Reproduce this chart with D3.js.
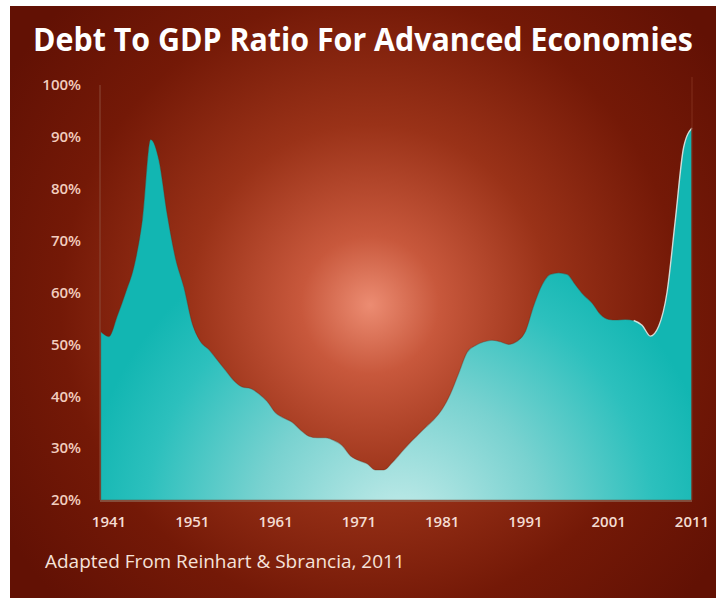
<!DOCTYPE html>
<html>
<head>
<meta charset="utf-8">
<script src="https://cdn.jsdelivr.net/npm/d3@7"></script>
<style>
  body { margin: 0; background: #fff; }
  svg { display: block; }
</style>
</head>
<body>
<script>
// data
const years = d3.range(1940, 2012);
const debtRatio = [
  52.5, 51.5, 55.5, 60, 65, 74, 89.5, 85.5, 75, 66.5,
  61, 54, 50.5, 49, 47, 45, 43, 41.8, 41.5, 40.5,
  39, 36.8, 35.8, 35, 33.5, 32.3, 32, 32, 31.5, 30.5,
  28.5, 27.6, 27, 25.8, 25.8, 27.2, 29, 30.8, 32.4, 34,
  35.5, 37.5, 40.5, 44.5, 48.5, 49.8, 50.5, 50.8, 50.5, 50,
  50.6, 52.5, 57.5, 61.5, 63.5, 63.8, 63.5, 61.5, 59.5, 58,
  55.8, 54.8, 54.7, 54.8, 54.6, 53.7, 51.6, 53.5, 60, 74,
  88, 91.7
];
const yTicks = [20, 30, 40, 50, 60, 70, 80, 90, 100];
const xTicks = [1941, 1951, 1961, 1971, 1981, 1991, 2001, 2011];

const W = 716, H = 598;
const data = years.map((y, i) => ({ year: y, value: debtRatio[i] }));

const svg = d3.select("body").append("svg")
  .attr("width", W)
  .attr("height", H);

const defs = svg.append("defs");

// background glow
const bg = defs.append("radialGradient")
  .attr("id", "bg")
  .attr("gradientUnits", "userSpaceOnUse")
  .attr("cx", 370).attr("cy", 305).attr("r", 430);
bg.append("stop").attr("offset", 0).attr("stop-color", "#ec8c72");
bg.append("stop").attr("offset", 0.16).attr("stop-color", "#c8583c");
bg.append("stop").attr("offset", 0.42).attr("stop-color", "#9a3218");
bg.append("stop").attr("offset", 0.72).attr("stop-color", "#741907");
bg.append("stop").attr("offset", 1).attr("stop-color", "#621104");

// teal fill, pale near bottom middle
const fill = defs.append("radialGradient")
  .attr("id", "teal")
  .attr("gradientUnits", "userSpaceOnUse")
  .attr("cx", 400).attr("cy", 530).attr("r", 320);
fill.append("stop").attr("offset", 0).attr("stop-color", "#c6ecea");
fill.append("stop").attr("offset", 0.45).attr("stop-color", "#79d2d0");
fill.append("stop").attr("offset", 0.8).attr("stop-color", "#2cc0bd");
fill.append("stop").attr("offset", 1).attr("stop-color", "#12b6b2");

svg.append("rect")
  .attr("x", 10).attr("y", 6)
  .attr("width", W - 10).attr("height", H - 6)
  .attr("fill", "url(#bg)");

const x = d3.scaleLinear().domain([1941, 2011]).range([109, 692]);
const y = d3.scaleLinear().domain([20, 100]).range([500, 85]);

const area = d3.area()
  .x(d => x(d.year))
  .y0(y(20))
  .y1(d => y(d.value))
  .curve(d3.curveMonotoneX);

svg.append("path")
  .datum(data)
  .attr("d", area)
  .attr("fill", "url(#teal)")
  .attr("stroke", "rgba(110,40,20,0.35)")
  .attr("stroke-width", 1.2);

// light edge on the last stretch
const line = d3.line()
  .x(d => x(d.year))
  .y(d => y(d.value))
  .curve(d3.curveMonotoneX);

svg.append("path")
  .datum(data.filter(d => d.year >= 2004))
  .attr("d", line)
  .attr("fill", "none")
  .attr("stroke", "#e6f6f2")
  .attr("stroke-opacity", 0.85)
  .attr("stroke-width", 1.4);

// axis lines
svg.append("line")
  .attr("x1", 100).attr("x2", 100)
  .attr("y1", y(100)).attr("y2", y(20))
  .attr("stroke", "#8c4a38").attr("stroke-width", 1);
svg.append("line")
  .attr("x1", x(2011)).attr("x2", x(2011))
  .attr("y1", 77).attr("y2", y(20))
  .attr("stroke", "#7e2a18").attr("stroke-width", 1.2);
svg.append("line")
  .attr("x1", 100).attr("x2", x(2011))
  .attr("y1", y(20) + 1).attr("y2", y(20) + 1)
  .attr("stroke", "#9a8270").attr("stroke-width", 1);

// y labels
svg.append("g").selectAll("text")
  .data(yTicks)
  .join("text")
  .attr("x", 81)
  .attr("y", d => y(d))
  .attr("dy", "0.35em")
  .attr("text-anchor", "end")
  .attr("font-family", "Open Sans, sans-serif")
  .attr("font-weight", 600)
  .attr("font-size", 15)
  .attr("fill", "#f2cdbf")
  .text(d => d + "%");

// x labels
svg.append("g").selectAll("text")
  .data(xTicks)
  .join("text")
  .attr("x", d => x(d))
  .attr("y", 522)
  .attr("dy", "0.35em")
  .attr("text-anchor", "middle")
  .attr("font-family", "Open Sans, sans-serif")
  .attr("font-weight", 600)
  .attr("font-size", 15)
  .attr("fill", "#f4dcd2")
  .text(d => d);

// title - squeeze horizontally to the reference width
const title = svg.append("text")
  .attr("font-family", "Open Sans, sans-serif")
  .attr("font-weight", 700)
  .attr("font-size", 30)
  .attr("fill", "#ffffff")
  .text("Debt To GDP Ratio For Advanced Economies");
const tw = title.node().getComputedTextLength();
title.attr("transform", `translate(33,51) scale(${660 / tw},1.1)`);

// source note
const note = svg.append("text")
  .attr("font-family", "Open Sans, sans-serif")
  .attr("font-size", 17)
  .attr("fill", "#f6e2da")
  .text("Adapted From Reinhart & Sbrancia, 2011");
const nw = note.node().getComputedTextLength();
note.attr("transform", `translate(45,568) scale(${360 / nw},1.05)`);
</script>
</body>
</html>
